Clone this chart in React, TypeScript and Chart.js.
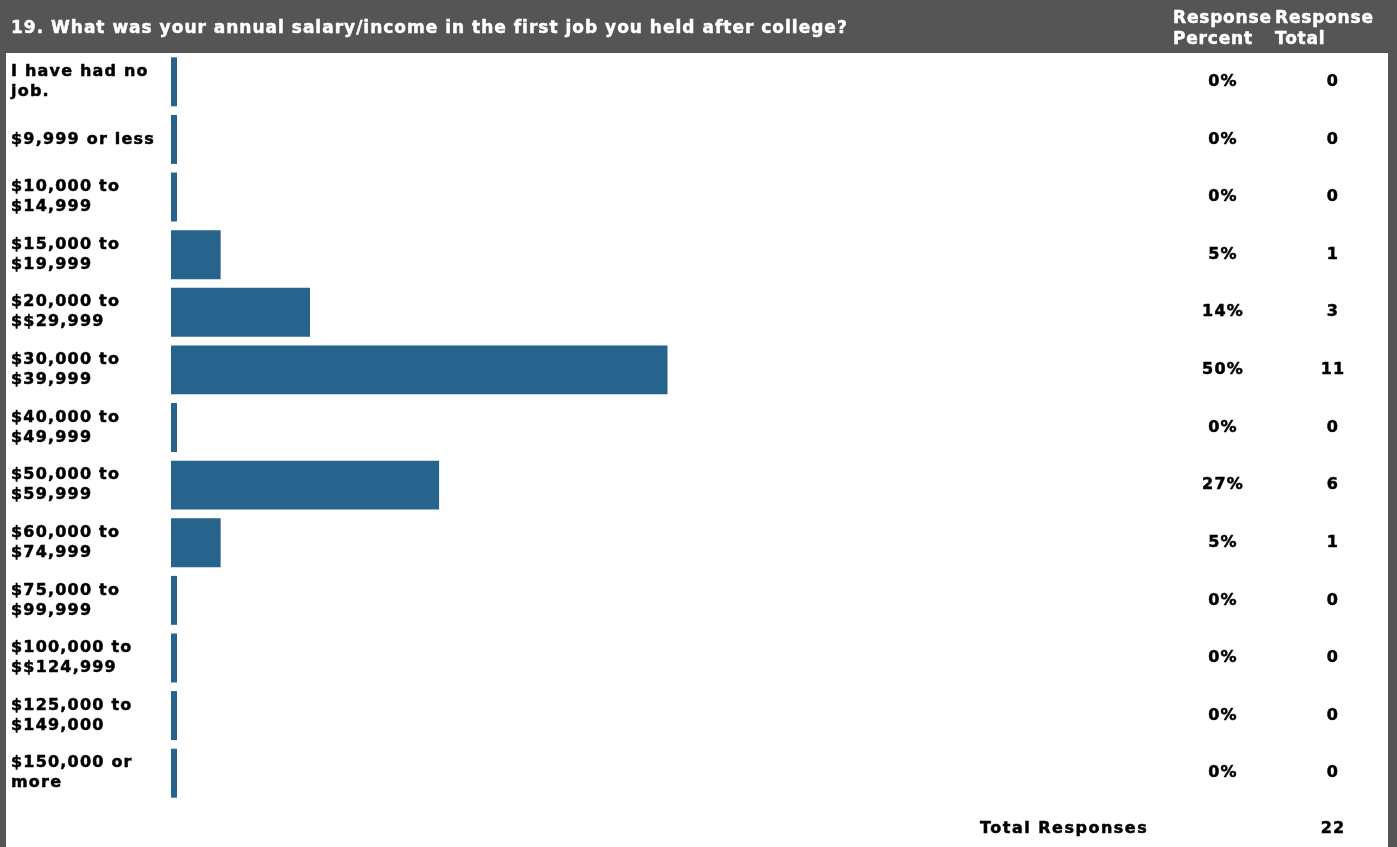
import React, { useEffect, useRef } from "react";
import { Chart, registerables } from "chart.js";

Chart.register(...registerables);

const title = "19. What was your annual salary/income in the first job you held after college?";
const categories: string[][] = [
  ["I have had no", "job."],
  ["$9,999 or less"],
  ["$10,000 to", "$14,999"],
  ["$15,000 to", "$19,999"],
  ["$20,000 to", "$$29,999"],
  ["$30,000 to", "$39,999"],
  ["$40,000 to", "$49,999"],
  ["$50,000 to", "$59,999"],
  ["$60,000 to", "$74,999"],
  ["$75,000 to", "$99,999"],
  ["$100,000 to", "$$124,999"],
  ["$125,000 to", "$149,000"],
  ["$150,000 or", "more"],
];
const responsePercent: number[] = [0, 0, 0, 5, 14, 50, 0, 27, 5, 0, 0, 0, 0];
const responseTotal: number[] = [0, 0, 0, 1, 3, 11, 0, 6, 1, 0, 0, 0, 0];
const headerPercent = ["Response", "Percent"];
const headerTotal = ["Response", "Total"];
const totalLabel = "Total Responses";
const totalResponses = 22;

const W = 1397;
const H = 847;
const FONT = '"DejaVu Sans", Verdana, sans-serif';

function heavyText(ctx: CanvasRenderingContext2D, s: string, x: number, y: number) {
  ctx.fillText(s, x, y);
  ctx.strokeText(s, x, y);
}

const decorPlugin = {
  id: "decor",
  beforeDraw(chart: any) {
    const ctx = chart.ctx;
    ctx.save();
    ctx.fillStyle = "#555555";
    ctx.fillRect(0, 0, W, H);
    ctx.fillStyle = "#ffffff";
    ctx.fillRect(6, 53, 1382, H - 53);
    ctx.restore();
  },
  afterDraw(chart: any) {
    const ctx = chart.ctx;
    const y = chart.scales.y;
    ctx.save();
    ctx.lineWidth = 0.5;
    ctx.lineJoin = "round";
    // header
    (ctx as any).letterSpacing = "1px";
    ctx.fillStyle = "#ffffff";
    ctx.strokeStyle = "#ffffff";
    ctx.font = `bold 17px ${FONT}`;
    ctx.textAlign = "left";
    ctx.textBaseline = "alphabetic";
    heavyText(ctx, title, 11, 33);
    (ctx as any).letterSpacing = "0.8px";
    heavyText(ctx, headerPercent[0], 1173, 23);
    heavyText(ctx, headerPercent[1], 1173, 44);
    heavyText(ctx, headerTotal[0], 1275, 23);
    heavyText(ctx, headerTotal[1], 1275, 44);
    // rows
    (ctx as any).letterSpacing = "1.2px";
    ctx.fillStyle = "#000000";
    ctx.strokeStyle = "#000000";
    ctx.font = `bold 16px ${FONT}`;
    ctx.textBaseline = "middle";
    categories.forEach((lines, i) => {
      const cy = y.getPixelForValue(i);
      ctx.textAlign = "left";
      if (lines.length === 1) {
        heavyText(ctx, lines[0], 11, cy);
      } else {
        heavyText(ctx, lines[0], 11, cy - 10);
        heavyText(ctx, lines[1], 11, cy + 10);
      }
      ctx.textAlign = "center";
      heavyText(ctx, responsePercent[i] + "%", 1223, cy);
      heavyText(ctx, String(responseTotal[i]), 1333, cy);
    });
    ctx.textBaseline = "alphabetic";
    ctx.textAlign = "left";
    (ctx as any).letterSpacing = "1.5px";
    heavyText(ctx, totalLabel, 980, 833);
    ctx.textAlign = "center";
    (ctx as any).letterSpacing = "1.2px";
    heavyText(ctx, String(totalResponses), 1333, 833);
    ctx.restore();
  },
};

export default function App() {
  const ref = useRef<HTMLCanvasElement>(null);
  useEffect(() => {
    document.body.style.margin = "0";
    const chart = new Chart(ref.current!, {
      type: "bar",
      data: {
        labels: categories.map((c) => c.join(" ")),
        datasets: [
          {
            data: responsePercent,
            backgroundColor: "#26648e",
            borderWidth: 0,
            minBarLength: 6,
            barPercentage: 0.85,
            categoryPercentage: 1,
          },
        ],
      },
      options: {
        indexAxis: "y",
        responsive: false,
        animation: false,
        layout: { padding: { left: 171, right: 233, top: 53, bottom: 45 } },
        scales: {
          x: { display: false, min: 0, max: 100 },
          y: { display: false },
        },
        plugins: { legend: { display: false }, tooltip: { enabled: false } },
      },
      plugins: [decorPlugin],
    });
    return () => chart.destroy();
  }, []);
  return (
    <div style={{ position: "fixed", left: 0, top: 0, width: W, height: H }}>
      <canvas ref={ref} width={W} height={H} style={{ display: "block" }} />
    </div>
  );
}
